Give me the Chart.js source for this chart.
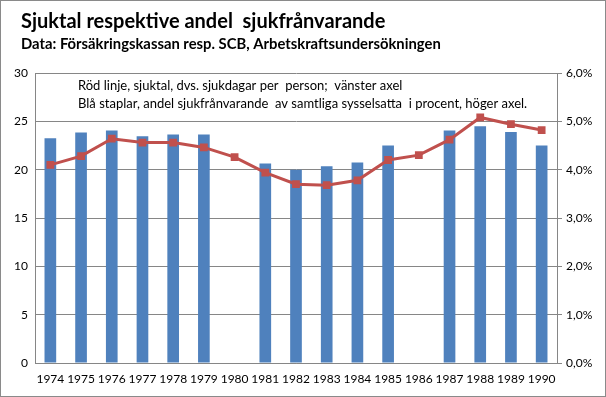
<!DOCTYPE html>
<html>
<head>
<meta charset="utf-8">
<script src="https://cdn.jsdelivr.net/npm/chart.js@4/dist/chart.umd.min.js"></script>
<style>
body { margin: 0; background: #fff; }
#wrap { width: 606px; height: 397px; position: relative; }
</style>
</head>
<body>
<div id="wrap"><canvas id="Chart1" width="606" height="397"></canvas></div>
<script>
// data
var years = ['1974','1975','1976','1977','1978','1979','1980','1981','1982','1983','1984','1985','1986','1987','1988','1989','1990'];
var sjuktal = [20.5, 21.4, 23.2, 22.8, 22.8, 22.3, 21.3, 19.7, 18.5, 18.4, 18.9, 21.0, 21.5, 23.1, 25.4, 24.7, 24.1];
var andelFranvarande = [4.65, 4.77, 4.81, 4.69, 4.73, 4.73, null, 4.13, 4.00, 4.07, 4.15, 4.50, null, 4.81, 4.90, 4.78, 4.50];

var titleText = 'Sjuktal respektive andel  sjukfrånvarande';
var subtitleText = 'Data: Försäkringskassan resp. SCB, Arbetskraftsundersökningen';
var noteLines = [
    'Röd linje, sjuktal, dvs. sjukdagar per  person;  vänster axel',
    'Blå staplar, andel sjukfrånvarande  av samtliga sysselsatta  i procent, höger axel.'
];

var fontFam = 'Lato, "Open Sans", sans-serif';
var gridCol = '#868686';

// title, subtitle, note inside plot and the outer frame
var textPlugin = {
    id: 'texts',
    afterDraw: function(chart) {
        var c = chart.ctx;
        c.save();
        c.fillStyle = '#000';
        c.textBaseline = 'alphabetic';
        c.textAlign = 'left';
        c.font = 'bold 20px ' + fontFam;
        c.fillText(titleText, 21, 28);
        c.font = 'bold 14.8px ' + fontFam;
        c.fillText(subtitleText, 21, 49);
        c.font = '13px ' + fontFam;
        c.fillText(noteLines[0], 78, 90);
        c.fillText(noteLines[1], 78, 108);
        c.strokeStyle = '#8a8a8a';
        c.lineWidth = 1;
        c.strokeRect(0.5, 0.5, chart.width - 1, chart.height - 1);
        c.restore();
    }
};

var ctx1 = document.getElementById('Chart1').getContext('2d');
var chart1 = new Chart(ctx1, {
    type: 'bar',
    data: {
        labels: years,
        datasets: [{
            type: 'line',
            label: 'Sjuktal',
            data: sjuktal,
            yAxisID: 'y',
            borderColor: '#C0504D',
            backgroundColor: '#C0504D',
            borderWidth: 3,
            pointStyle: 'rect',
            pointRadius: 5.5,
            pointBorderWidth: 0,
            tension: 0,
            order: 0
        }, {
            type: 'bar',
            label: 'Andel sjukfrånvarande',
            data: andelFranvarande,
            yAxisID: 'y1',
            backgroundColor: '#4F81BD',
            barPercentage: 0.76,
            categoryPercentage: 0.5,
            order: 1
        }]
    },
    options: {
        responsive: false,
        animation: false,
        layout: { padding: { top: 73, left: 0, right: 0, bottom: 0 } },
        plugins: {
            legend: { display: false },
            title: { display: false },
            tooltip: { enabled: false }
        },
        scales: {
            x: {
                grid: { display: false, drawTicks: false },
                border: { display: true, color: gridCol },
                ticks: { color: '#000', font: { family: fontFam, size: 12 }, padding: 9, maxRotation: 0, autoSkip: false },
                afterFit: function(s) { s.height = 34; }
            },
            y: {
                position: 'left',
                min: 0, max: 30,
                ticks: { stepSize: 5, color: '#000', font: { family: fontFam, size: 12 }, padding: 7 },
                grid: { color: gridCol, drawTicks: false },
                border: { display: true, color: gridCol },
                afterFit: function(s) { s.width = 35; }
            },
            y1: {
                position: 'right',
                min: 0, max: 6,
                ticks: {
                    stepSize: 1, color: '#000', font: { family: fontFam, size: 12 }, padding: 4,
                    callback: function(v) { return v.toFixed(1).replace('.', ',') + '%'; }
                },
                grid: { drawOnChartArea: false, color: gridCol, tickLength: 5 },
                border: { display: true, color: gridCol },
                afterFit: function(s) { s.width = 49; }
            }
        }
    },
    plugins: [textPlugin]
});
</script>
</body>
</html>
